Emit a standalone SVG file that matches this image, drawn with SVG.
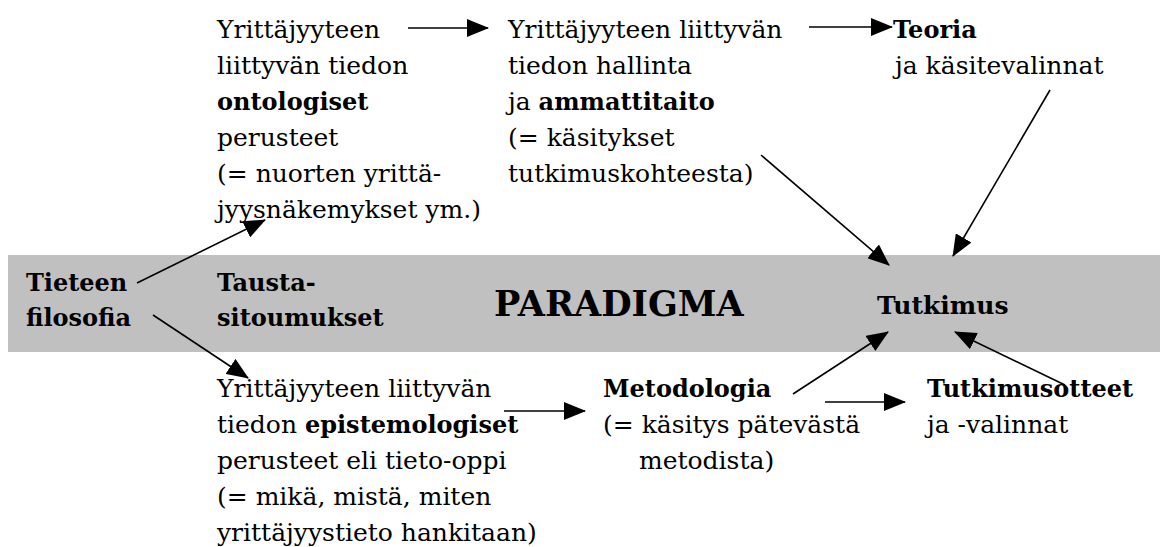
<svg xmlns="http://www.w3.org/2000/svg" width="1163" height="547" viewBox="0 0 1163 547">
<style>
text{font-family:"DejaVu Serif","Liberation Serif",serif;font-size:25px;fill:#000}
.b{font-weight:bold;font-size:24px}
.big{font-weight:bold;font-size:35px}
.con line{stroke:#000;stroke-width:1.6;marker-end:url(#ah)}
</style>
<defs>
<marker id="ah" markerUnits="userSpaceOnUse" markerWidth="22" markerHeight="18" refX="21" refY="9" orient="auto">
<path d="M0,0 L22,9 L0,18 z" fill="#000"/>
</marker>
</defs>
<rect id="band" x="8" y="255" width="1152" height="97" fill="#c0c0c0"/>
<g id="n-tieteen"><text class="b" x="26" y="291">Tieteen</text><text class="b" x="26" y="326">filosofia</text></g>
<g id="n-tausta"><text class="b" x="217" y="291">Tausta-</text><text class="b" x="217" y="326">sitoumukset</text></g>
<g id="n-paradigma"><text class="big" x="494" y="316">PARADIGMA</text></g>
<g id="n-tutkimus"><text class="b" x="877" y="314" style="font-size:25px">Tutkimus</text></g>
<g id="n-ontologiset">
<text x="217" y="38">Yrittäjyyteen</text>
<text x="217" y="74">liittyvän tiedon</text>
<text class="b" x="217" y="110">ontologiset</text>
<text x="217" y="146">perusteet</text>
<text x="217" y="182">(= nuorten yrittä-</text>
<text x="217" y="218">jyysnäkemykset ym.)</text>
</g>
<g id="n-hallinta">
<text x="508" y="38">Yrittäjyyteen liittyvän</text>
<text x="508" y="74">tiedon hallinta</text>
<text x="508" y="110">ja <tspan class="b">ammattitaito</tspan></text>
<text x="508" y="146">(= käsitykset</text>
<text x="508" y="182">tutkimuskohteesta)</text>
</g>
<g id="n-teoria">
<text class="b" x="893" y="38">Teoria</text>
<text x="895" y="74">ja käsitevalinnat</text>
</g>
<g id="n-epistemologiset">
<text x="217" y="397">Yrittäjyyteen liittyvän</text>
<text x="217" y="433">tiedon <tspan class="b">epistemologiset</tspan></text>
<text x="217" y="469">perusteet eli tieto-oppi</text>
<text x="217" y="505">(= mikä, mistä, miten</text>
<text x="217" y="541">yrittäjyystieto hankitaan)</text>
</g>
<g id="n-metodologia">
<text class="b" x="603" y="397">Metodologia</text>
<text x="603" y="433">(= käsitys pätevästä</text>
<text x="639" y="469">metodista)</text>
</g>
<g id="n-tutkimusotteet">
<text class="b" x="927" y="397">Tutkimusotteet</text>
<text x="927" y="433">ja -valinnat</text>
</g>
<g id="connectors" class="con">
<line x1="408" y1="28" x2="488" y2="28"/>
<line x1="809" y1="27" x2="892" y2="27"/>
<line x1="137" y1="283" x2="265" y2="220"/>
<line x1="153" y1="315" x2="248" y2="378"/>
<line x1="504" y1="411" x2="585" y2="411"/>
<line x1="825" y1="402" x2="905" y2="402"/>
<line x1="793" y1="394" x2="888" y2="332"/>
<line x1="1065" y1="385" x2="955" y2="332"/>
<line x1="761" y1="155" x2="889" y2="265"/>
<line x1="1050" y1="90" x2="953" y2="256"/>
</g>
</svg>
